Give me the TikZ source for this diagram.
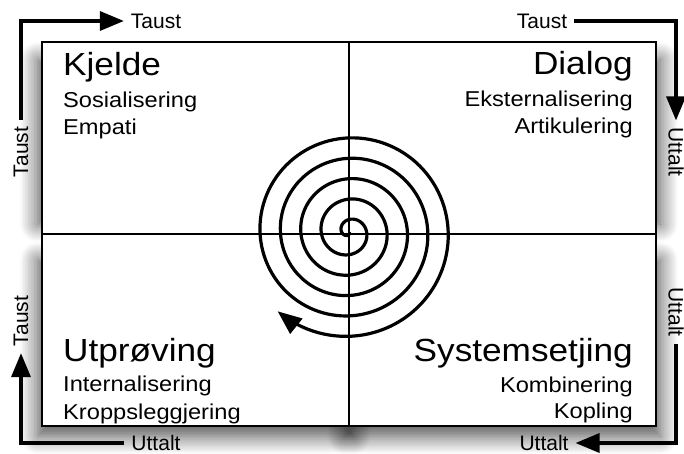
\documentclass[tikz,border=0pt]{standalone}
\usepackage{fontspec}
\setmainfont{Liberation Sans}
\newfontfamily\widefont{Liberation Sans}[FakeStretch=1.1]
\usetikzlibrary{arrows.meta,shadows.blur}
\tikzset{
    quad/.style={draw=black, line width=2.4bp, fill=white, minimum width=307bp, minimum height=192bp, anchor=north west, inner sep=0pt, outer sep=0pt},
    quadshadow/.style={blur shadow={shadow xshift=0bp, shadow yshift=-8bp, shadow blur radius=18bp, shadow blur steps=12, shadow opacity=72}},
    title/.style={inner sep=0pt, font=\widefont\fontsize{32bp}{32bp}\selectfont},
    sub/.style={inner sep=0pt, font=\widefont\fontsize{21.5bp}{21.5bp}\selectfont},
    lbl/.style={inner sep=1bp, outer sep=6bp, font=\fontsize{21bp}{21bp}\selectfont},
    tip/.style={-{Triangle[length=24bp,width=19bp,fill=black]}},
    flow/.style={line width=3.4bp, draw=black, tip},
}

\begin{document}
\begin{tikzpicture}[x=1bp, y=-1bp]
    \useasboundingbox (0,0) rectangle (684,454);
    \foreach \bx in {38, 345}
        \path[quadshadow] (\bx,52) rectangle ++(315,164);
    \foreach \bx in {38, 345}
        \path[quadshadow] (\bx,252) rectangle ++(315,176);

    \node[quad] (kjeldebox) at (42,42) {};
    \node[quad] (dialogbox) at (349,42) {};
    \node[quad] (utprovingbox) at (42,234) {};
    \node[quad] (systembox) at (349,234) {};

    \draw[line width=3.2bp, tip] plot[domain=60:1932, samples=600, variable=\t]
        ({349+(7.4+(\t-180)*0.05667)*cos(\t)}, {232+(7.4+(\t-180)*0.05667)*sin(\t)});

    \node[title, anchor=base west] (kjelde) at (63,76) {Kjelde};
    \node[sub, anchor=base west] (kjeldeA) at (63,108) {Sosialisering};
    \node[sub, anchor=base west] (kjeldeB) at (63,135) {Empati};
    \node[title, anchor=base east] (dialog) at (633,75) {Dialog};
    \node[sub, anchor=base east] (dialogA) at (633,107) {Eksternalisering};
    \node[sub, anchor=base east] (dialogB) at (633,134) {Artikulering};
    \node[title, anchor=base west] (utproving) at (63,361) {Utprøving};
    \node[sub, anchor=base west] (utprovingA) at (63,391) {Internalisering};
    \node[sub, anchor=base west] (utprovingB) at (63,419) {Kroppsleggjering};
    \node[title, anchor=base east] (system) at (633,361) {Systemsetjing};
    \node[sub, anchor=base east] (systemA) at (633,392) {Kombinering};
    \node[sub, anchor=base east] (systemB) at (633,418) {Kopling};

    \node[lbl] (taustTL) at (156,21) {Taust};
    \node[lbl, rotate=90] (taustL) at (21,152) {Taust};
    \node[lbl] (taustTR) at (542,21) {Taust};
    \node[lbl, rotate=-90] (uttaltR) at (676,152) {Uttalt};
    \node[lbl, rotate=-90] (uttaltR2) at (676,312) {Uttalt};
    \node[lbl] (uttaltBR) at (544,443) {Uttalt};
    \node[lbl] (uttaltBL) at (156,443) {Uttalt};
    \node[lbl, rotate=90] (taustL2) at (21,321) {Taust};

    \draw[flow] (taustL.east) |- (taustTL.west);
    \draw[flow] (taustTR.east) -| (uttaltR.west);
    \draw[flow] (uttaltR2.east) |- (uttaltBR.east);
    \draw[flow] (uttaltBL.west) -| (taustL2.west);
\end{tikzpicture}
\end{document}
